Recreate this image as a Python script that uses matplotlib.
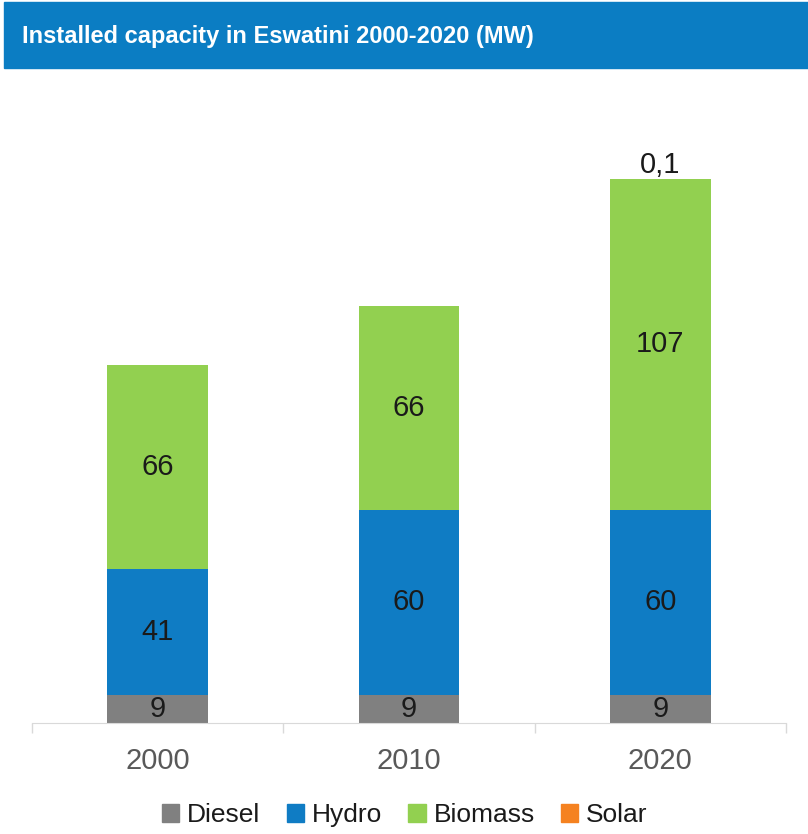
import matplotlib.pyplot as plt
import numpy as np
from matplotlib.patches import Patch, Rectangle

plt.rcParams['font.family'] = ['Liberation Sans', 'DejaVu Sans']

years = ['2000', '2010', '2020']
diesel = [9, 9, 9]
hydro = [41, 60, 60]
biomass = [66, 66, 107]
solar = [0, 0, 0.1]

c_diesel = '#808080'
c_hydro = '#0f7cc4'
c_biomass = '#92d050'
c_solar = '#f58220'
c_title = '#0b7dc3'

fig = plt.figure(figsize=(8.08, 8.34), dpi=100)

# title banner
fig.patches.append(Rectangle((4 / 808, 1 - 68 / 834), 1, 66 / 834,
                             transform=fig.transFigure, color=c_title, zorder=0))
fig.text(22 / 808, 1 - 37 / 834, 'Installed capacity in Eswatini 2000-2020 (MW)',
         color='white', fontsize=17, fontweight='bold', va='center', ha='left')

ax = fig.add_axes([32 / 808, 1 - 723 / 834, 754 / 808, 618 / 834])
x = np.arange(len(years))
w = 0.40

b1 = ax.bar(x, diesel, w, color=c_diesel)
bot = np.array(diesel, dtype=float)
b2 = ax.bar(x, hydro, w, bottom=bot, color=c_hydro)
bot += hydro
b3 = ax.bar(x, biomass, w, bottom=bot, color=c_biomass)
bot += biomass
b4 = ax.bar(x, solar, w, bottom=bot, color=c_solar)

lab_kw = dict(fontsize=21, color='#1a1a1a')
ax.bar_label(b1, labels=[str(v) for v in diesel], label_type='center', **lab_kw)
ax.bar_label(b2, labels=[str(v) for v in hydro], label_type='center', **lab_kw)
ax.bar_label(b3, labels=[str(v) for v in biomass], label_type='center', **lab_kw)
ax.bar_label(b4, labels=[str(v).replace('.', ',') if v else '' for v in solar],
             padding=0, **lab_kw)

ax.set_xlim(-0.5, len(years) - 0.5)
ax.set_ylim(0, 200)
ax.set_xticks(x)
ax.set_xticklabels(years, fontsize=21, color='#595959')
ax.set_xticks(np.arange(len(years) + 1) - 0.5, minor=True)
ax.tick_params(axis='x', which='major', length=0, pad=17)
ax.tick_params(axis='x', which='minor', length=7, color='#d9d9d9', width=1)
ax.set_yticks([])
for s in ['top', 'right', 'left']:
    ax.spines[s].set_visible(False)
ax.spines['bottom'].set_color('#d9d9d9')
ax.patch.set_alpha(0)

handles = [Patch(color=c_diesel, label='Diesel'),
           Patch(color=c_hydro, label='Hydro'),
           Patch(color=c_biomass, label='Biomass'),
           Patch(color=c_solar, label='Solar')]
fig.legend(handles=handles, loc='center', bbox_to_anchor=(0.501, 1 - 815 / 834),
           ncol=4, frameon=False, fontsize=19, handlelength=0.65, handleheight=0.65,
           handletextpad=0.3, columnspacing=1.0, labelcolor='#1a1a1a')

fig.savefig('out.png', dpi=100)
